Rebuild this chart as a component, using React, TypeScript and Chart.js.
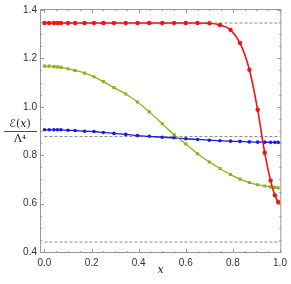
import React, { useEffect, useRef } from "react";
import { Chart, registerables } from "chart.js";

Chart.register(...registerables);

const xs = [0, 0.02, 0.04, 0.055, 0.07, 0.1, 0.13, 0.17, 0.21, 0.25, 0.295, 0.345, 0.395, 0.445, 0.5, 0.55, 0.6, 0.65, 0.7, 0.745, 0.79, 0.83, 0.87, 0.905, 0.935, 0.96, 0.978, 0.992];
const redVals = [1.346, 1.346, 1.346, 1.346, 1.346, 1.346, 1.346, 1.346, 1.346, 1.346, 1.346, 1.346, 1.346, 1.346, 1.346, 1.346, 1.346, 1.346, 1.345, 1.338, 1.318, 1.264, 1.153, 0.988, 0.81, 0.695, 0.635, 0.607];
const greenVals = [1.168, 1.168, 1.166, 1.165, 1.163, 1.157, 1.15, 1.139, 1.124, 1.104, 1.079, 1.053, 1.02, 0.979, 0.93, 0.885, 0.846, 0.806, 0.772, 0.745, 0.72, 0.701, 0.687, 0.678, 0.673, 0.669, 0.667, 0.665];
const blueVals = [0.905, 0.905, 0.905, 0.905, 0.905, 0.903, 0.902, 0.899, 0.898, 0.894, 0.89, 0.886, 0.881, 0.878, 0.874, 0.872, 0.868, 0.865, 0.862, 0.86, 0.858, 0.857, 0.855, 0.854, 0.854, 0.853, 0.853, 0.853];
const dashedLevels = [1.346, 0.877, 0.441];
const dashedRange = [0, 1];
const xTickVals = [0, 0.2, 0.4, 0.6, 0.8, 1.0];
const yTickVals = [0.4, 0.6, 0.8, 1.0, 1.2, 1.4];

function drawRuns(ctx: any, runs: [string, string][], cx: number, cy: number) {
  let total = 0;
  const widths = runs.map(([t, f]) => {
    ctx.font = f;
    const w = ctx.measureText(t).width;
    total += w;
    return w;
  });
  let x = cx - total / 2;
  ctx.textAlign = "left";
  runs.forEach(([t, f], i) => {
    ctx.font = f;
    ctx.fillText(t, x, cy);
    x += widths[i];
  });
}

const framePlugin = {
  id: "frame",
  beforeDatasetsDraw(chart: any) {
    const { ctx, chartArea } = chart;
    const { left, right, top, bottom } = chartArea;
    const xs_ = chart.scales.x;
    const ys_ = chart.scales.y;
    ctx.save();
    ctx.strokeStyle = "#999";
    ctx.lineWidth = 1;
    ctx.strokeRect(left + 0.5, top + 0.5, right - left - 1, bottom - top - 1);
    ctx.beginPath();
    for (let i = 0; i <= 20; i++) {
      const v = i * 0.05;
      const major = i % 4 === 0;
      const len = major ? 4 : 2;
      const px = Math.round(xs_.getPixelForValue(v)) + 0.5;
      ctx.moveTo(px, bottom);
      ctx.lineTo(px, bottom - len);
      ctx.moveTo(px, top);
      ctx.lineTo(px, top + len);
    }
    for (let i = 0; i <= 20; i++) {
      const v = 0.4 + i * 0.05;
      const major = i % 4 === 0;
      const len = major ? 4 : 2;
      const py = Math.round(ys_.getPixelForValue(v)) + 0.5;
      ctx.moveTo(left, py);
      ctx.lineTo(left + len, py);
      ctx.moveTo(right, py);
      ctx.lineTo(right - len, py);
    }
    ctx.stroke();
    ctx.restore();
  },
  afterDraw(chart: any) {
    const { ctx, chartArea } = chart;
    ctx.save();
    ctx.fillStyle = "#222";
    ctx.textBaseline = "middle";
    const cx = 20;
    const cy = (chartArea.top + chartArea.bottom) / 2;
    drawRuns(ctx, [["ℰ", "11px 'DejaVu Sans'"], ["(", "11px 'DejaVu Serif'"], ["x", "italic 11px 'DejaVu Serif'"], [")", "11px 'DejaVu Serif'"]], cx, cy - 7);
    drawRuns(ctx, [["Λ", "11px 'DejaVu Serif'"], ["⁴", "10px 'DejaVu Serif'"]], cx, cy + 8);
    ctx.strokeStyle = "#222";
    ctx.lineWidth = 0.8;
    ctx.beginPath();
    ctx.moveTo(4, cy + 0.5);
    ctx.lineTo(37, cy + 0.5);
    ctx.stroke();
    ctx.textAlign = "center";
    ctx.font = "italic 11px 'DejaVu Serif'";
    ctx.fillText("x", (chartArea.left + chartArea.right) / 2, 270);
    ctx.restore();
  },
};

function curve(vals: number[], color: string, style: string, r: number, w: number) {
  return {
    data: xs.map((x, i) => ({ x, y: vals[i] })),
    borderColor: color,
    backgroundColor: color,
    borderWidth: w,
    pointStyle: style,
    pointRadius: r,
    pointBorderWidth: 0,
    cubicInterpolationMode: "monotone" as const,
    fill: false,
  };
}

export default function App() {
  const ref = useRef<HTMLCanvasElement>(null);
  useEffect(() => {
    document.body.style.margin = "0";
    const dashed = dashedLevels.map((lv) => ({
      data: dashedRange.map((x) => ({ x, y: lv })),
      borderColor: "#888",
      borderWidth: 1,
      borderDash: [3, 2],
      pointRadius: 0,
      fill: false,
    }));
    const chart = new Chart(ref.current!, {
      type: "line",
      data: {
        datasets: [
          curve(redVals, "rgb(240,20,20)", "circle", 2.2, 1.6),
          curve(greenVals, "rgb(143,178,28)", "rect", 2.2, 1.3),
          curve(blueVals, "rgb(25,25,235)", "circle", 1.8, 1.3),
          ...dashed,
        ] as any,
      },
      options: {
        animation: false,
        responsive: false,
        layout: { padding: { top: 8, right: 7, left: 0, bottom: 0 } },
        plugins: { legend: { display: false }, tooltip: { enabled: false } },
        scales: {
          x: {
            type: "linear",
            min: -0.019,
            max: 1.0055,
            grid: { display: false, drawTicks: false },
            border: { display: false },
            afterBuildTicks: (s: any) => {
              s.ticks = xTickVals.map((v) => ({ value: v }));
            },
            afterFit: (s: any) => {
              s.height = 31;
            },
            ticks: {
              padding: 4,
              color: "#333",
              font: { family: "'Liberation Sans'", size: 10 },
              maxRotation: 0,
              callback: (v: any) => Number(v).toFixed(1),
            },
          },
          y: {
            type: "linear",
            min: 0.3959,
            max: 1.4041,
            grid: { display: false, drawTicks: false },
            border: { display: false },
            afterBuildTicks: (s: any) => {
              s.ticks = yTickVals.map((v) => ({ value: v }));
            },
            afterFit: (s: any) => {
              s.width = 40;
            },
            ticks: {
              padding: 3,
              color: "#333",
              font: { family: "'Liberation Sans'", size: 10 },
              callback: (v: any) => Number(v).toFixed(1),
            },
          },
        },
      },
      plugins: [framePlugin],
    });
    return () => chart.destroy();
  }, []);
  return (
    <div style={{ width: 291, height: 284 }}>
      <canvas ref={ref} width={291} height={284} style={{ display: "block" }} />
    </div>
  );
}
